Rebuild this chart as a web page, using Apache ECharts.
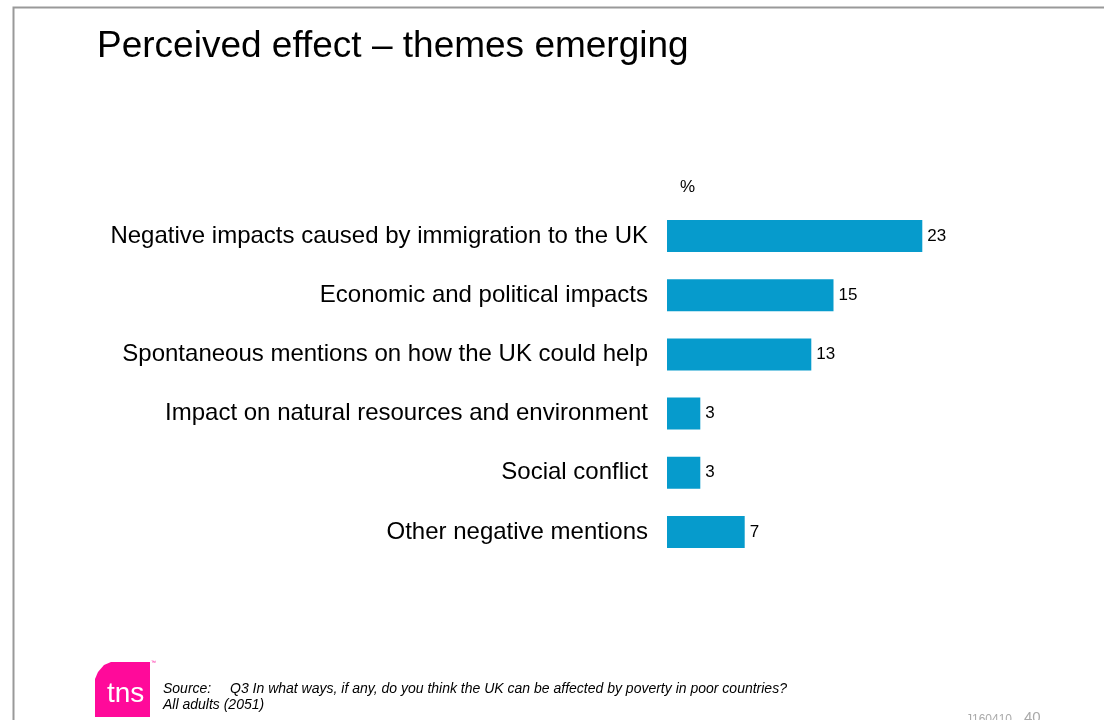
<!DOCTYPE html>
<html>
<head>
<meta charset="utf-8">
<script src="https://cdn.jsdelivr.net/npm/echarts@6/dist/echarts.min.js"></script>
<style>
  html, body { margin: 0; padding: 0; background: #fff; }
  #chart { width: 1104px; height: 720px; }
</style>
</head>
<body>
<div id="chart"></div>
<script>
// Themes mentioned, top to bottom
const categories = [
  'Negative impacts caused by immigration to the UK',
  'Economic and political impacts',
  'Spontaneous mentions on how the UK could help',
  'Impact on natural resources and environment',
  'Social conflict',
  'Other negative mentions'
];
const values = [23, 15, 13, 3, 3, 7];

const FONT = 'Liberation Sans, Arial, sans-serif';
const chart = echarts.init(document.getElementById('chart'));

chart.setOption({
  animation: false,
  backgroundColor: '#ffffff',
  grid: { left: 667, top: 206.4, width: 333, height: 355.2, containLabel: false },
  xAxis: {
    type: 'value', min: 0, max: 30,
    show: false
  },
  yAxis: {
    type: 'category',
    data: categories,
    inverse: true,
    axisLine: { show: false },
    axisTick: { show: false },
    axisLabel: {
      margin: 19,
      color: '#000',
      fontFamily: FONT,
      fontSize: 24,
      padding: [0, 0, 3, 0]
    }
  },
  series: [{
    type: 'bar',
    data: values,
    barCategoryGap: '46%',
    itemStyle: { color: '#069bcc' },
    label: {
      show: true,
      position: 'right',
      distance: 5,
      color: '#000',
      fontFamily: FONT,
      fontSize: 17
    }
  }],
  graphic: [
    // slide frame
    { type: 'polyline', shape: { points: [[13.5, 730], [13.5, 7.5], [1110, 7.5]] },
      style: { stroke: '#999', lineWidth: 2, fill: null } },
    { type: 'text', left: 97, top: 28,
      style: { text: 'Perceived effect \u2013 themes emerging', font: '37px ' + FONT, fill: '#000' } },
    { type: 'text', left: 680, top: 179,
      style: { text: '%', font: '17px ' + FONT, fill: '#000' } },
    // logo
    { type: 'polygon',
      shape: { points: [[111, 662], [150, 662], [150, 717], [95, 717], [95, 679], [98, 672], [104, 665]] },
      style: { fill: '#ff0a9a' } },
    { type: 'text', left: 107, top: 680,
      style: { text: 'tns', font: '28px ' + FONT, fill: '#fff' } },
    { type: 'text', left: 151, top: 660,
      style: { text: '\u2122', font: '5px ' + FONT, fill: '#ff0a9a' } },
    // source note
    { type: 'text', left: 163, top: 682,
      style: { text: 'Source:', font: 'italic 14px ' + FONT, fill: '#000' } },
    { type: 'text', left: 230, top: 682,
      style: { text: 'Q3 In what ways, if any, do you think the UK can be affected by poverty in poor countries?', font: 'italic 14px ' + FONT, fill: '#000' } },
    { type: 'text', left: 163, top: 698,
      style: { text: 'All adults (2051)', font: 'italic 14px ' + FONT, fill: '#000' } },
    // slide reference
    { type: 'text', left: 966, top: 714,
      style: { text: 'J160410', font: '12px ' + FONT, fill: '#aaa' } },
    { type: 'text', left: 1024, top: 710,
      style: { text: '40', font: '15px ' + FONT, fill: '#aaa' } }
  ]
});
</script>
</body>
</html>
